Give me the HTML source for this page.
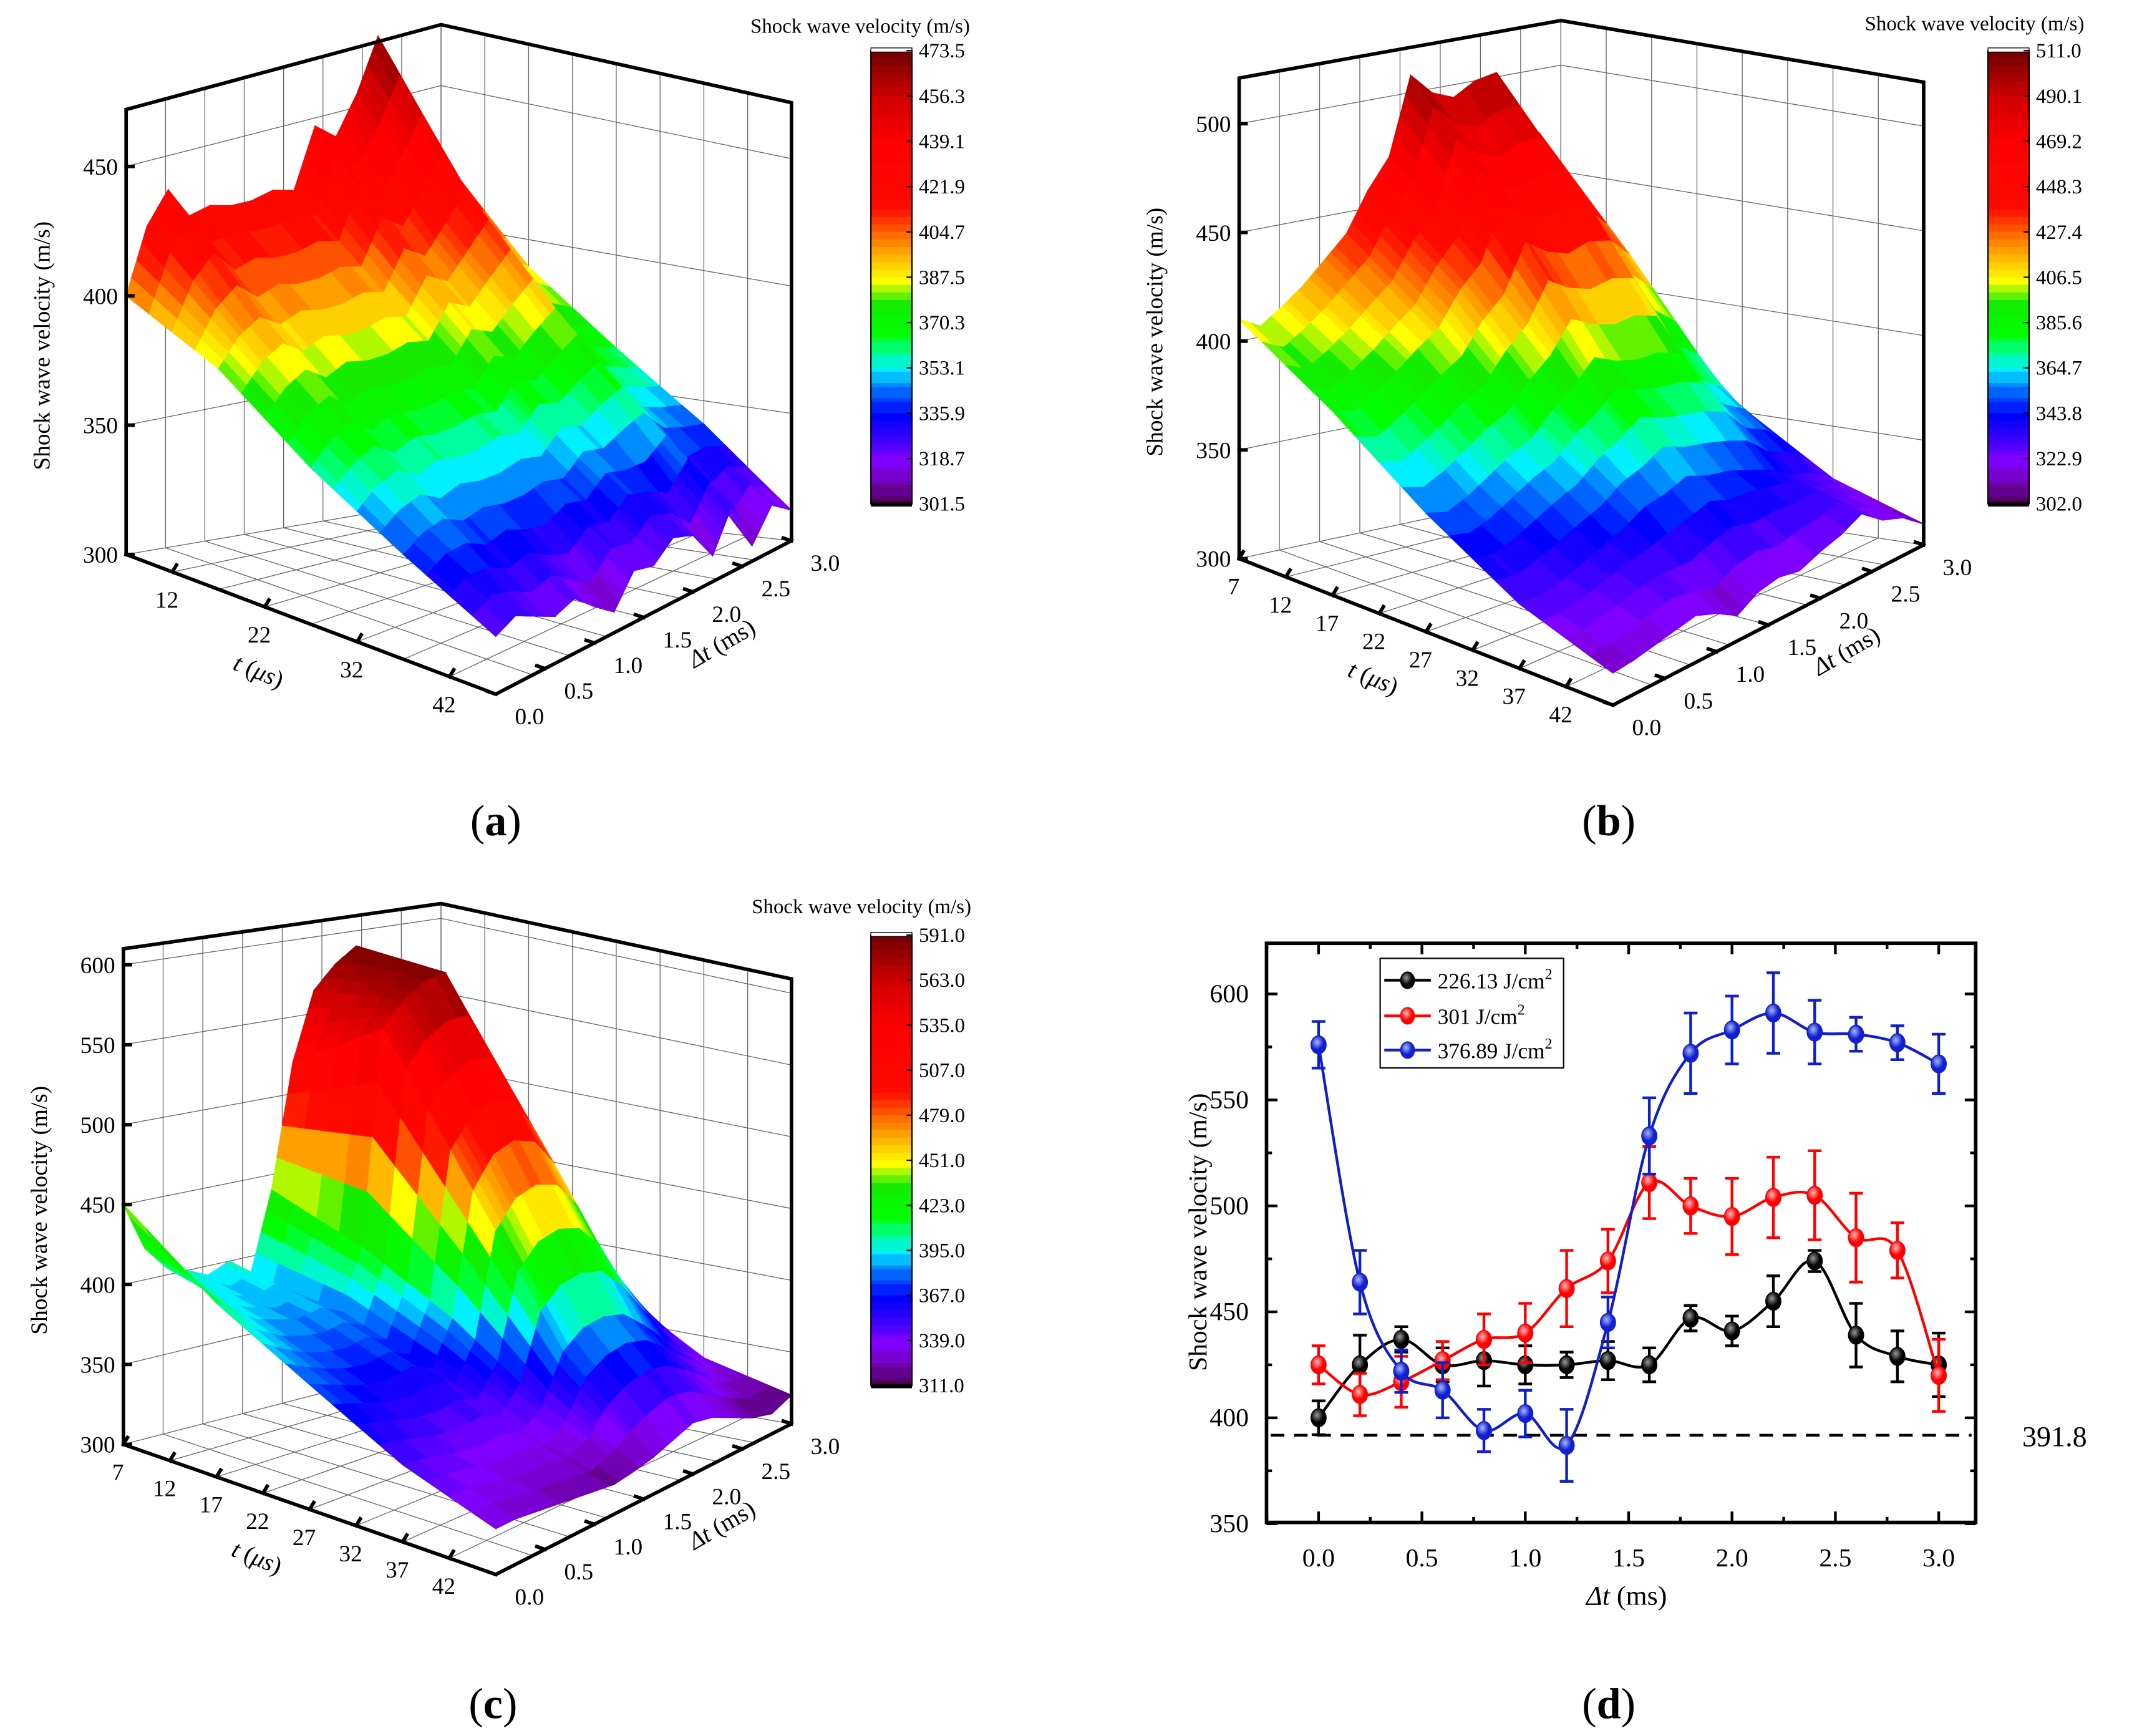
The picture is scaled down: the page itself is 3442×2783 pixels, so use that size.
<!DOCTYPE html>
<html><head><meta charset="utf-8">
<style>
html,body{margin:0;padding:0;background:#fff;}
svg{display:block;font-family:"Liberation Serif",serif;}
</style></head>
<body>
<svg id="fig" width="3442" height="2783" viewBox="0 0 1568 1268" xmlns="http://www.w3.org/2000/svg">
<rect x="0" y="0" width="1568" height="1268" fill="#fff"/>
<g id="pa"></g>
<g id="pb"></g>
<g id="pc"></g>
<g id="pd"></g>
<text x="362" y="610" font-size="32" text-anchor="middle">(<tspan font-weight="bold">a</tspan>)</text>
<text x="1175" y="610" font-size="32" text-anchor="middle">(<tspan font-weight="bold">b</tspan>)</text>
<text x="360" y="1255" font-size="32" text-anchor="middle">(<tspan font-weight="bold">c</tspan>)</text>
<text x="1175" y="1255" font-size="32" text-anchor="middle">(<tspan font-weight="bold">d</tspan>)</text>
</svg>
<script>
// ---------- data ----------
const deltaT = [0,0.2,0.4,0.6,0.8,1.0,1.2,1.4,1.6,1.8,2.0,2.2,2.4,2.6,2.8,3.0];
const tRows = [7,17,27,37,47];
const v226 = [400,425,437,425,427,425,425,427,425,447,441,455,474,439,429,425];
const v301 = [425,411,417,427,437,440,461,474,511,500,495,504,505,485,479,420];
const v377 = [576,464,422,413,394,402,387,445,533,572,583,591,582,581,577,567];
const e226 = [8,14,6,8,12,9,6,9,8,6,7,12,5,15,12,15];
const e301 = [9,10,12,9,12,14,18,15,17,13,18,19,21,21,13,17];
const e377 = [11,15,10,13,10,11,17,12,18,19,16,19,15,8,8,14];
// surface grids (rows = t, cols = delta t)
const surfA = [
 [400,425,437,425,427,425,425,427,425,447,441,455,474,439,429,425],
 [385,395,400,395,398,396,396,398,396,410,405,415,425,402,395,390],
 [360,368,372,366,370,368,368,370,368,378,375,382,388,372,368,365],
 [340,345,347,343,345,343,343,345,343,350,348,352,355,346,343,341],
 [322,326,322,318,321,314,308,320,318,325,322,310,326,306,318,312]];
const surfB = [
 [410,405,412,420,430,440,458,472,508,498,494,500,502,480,470,420],
 [385,382,388,395,403,410,425,435,460,452,448,452,450,430,420,390],
 [355,352,356,362,368,372,382,390,400,395,392,392,388,372,365,352],
 [330,330,332,336,340,344,350,352,356,352,350,346,342,335,332,325],
 [315,316,318,320,322,318,312,318,320,318,322,325,330,322,318,310]];
const surfC = [
 [450,420,405,400,394,400,388,440,520,565,580,590,580,575,570,560],
 [410,400,392,388,385,388,382,420,560,575,585,588,560,520,480,430],
 [380,375,370,366,365,368,362,390,470,490,495,490,470,430,400,370],
 [350,348,345,342,340,342,338,350,380,390,392,388,375,360,345,335],
 [330,330,328,326,324,322,320,322,325,330,335,332,325,318,314,320]];
const ticksA = ["473.5","456.3","439.1","421.9","404.7","387.5","370.3","353.1","335.9","318.7","301.5"];
const ticksB = ["511.0","490.1","469.2","448.3","427.4","406.5","385.6","364.7","343.8","322.9","302.0"];
const ticksC = ["591.0","563.0","535.0","507.0","479.0","451.0","423.0","395.0","367.0","339.0","311.0"];

const NS="http://www.w3.org/2000/svg";
function mk(parent,tag,attrs,txt){const e=document.createElementNS(NS,tag);for(const k in attrs)e.setAttribute(k,attrs[k]);if(txt!==undefined)e.textContent=txt;parent.appendChild(e);return e;}

const stops=[[0,[75,0,75]],[0.06,[120,0,200]],[0.1,[128,0,255]],[0.15,[60,0,255]],[0.2,[0,0,255]],[0.26,[0,120,255]],[0.3,[0,240,255]],[0.34,[0,255,140]],[0.38,[0,255,0]],[0.45,[20,235,0]],[0.5,[255,255,0]],[0.56,[255,170,0]],[0.6,[255,110,0]],[0.66,[255,10,0]],[0.8,[255,0,0]],[0.9,[210,0,0]],[1,[120,0,0]]];
function cmap(f){f=Math.max(0,Math.min(1,f));f=Math.round(f*60)/60;
 for(let i=1;i<stops.length;i++){if(f<=stops[i][0]){const a=stops[i-1],b=stops[i];const t=(f-a[0])/(b[0]-a[0]);
 const c=a[1].map((x,k)=>Math.round(x+(b[1][k]-x)*t));return `rgb(${c[0]},${c[1]},${c[2]})`;}}return 'rgb(120,0,0)';}

function panel3d(g,cfg){
 const {L,F,R,B,hL,hF,hR,hB,zmin,zmax,grid,cmin,cmax,tTicks,cb,cbTicks,cbTitle}=cfg;
 const tmin=7,tmax=47;
 const P=(u,v,z)=>{
  const fx=L[0]*(1-u)*(1-v)+F[0]*u*(1-v)+R[0]*u*v+B[0]*(1-u)*v;
  const fy=L[1]*(1-u)*(1-v)+F[1]*u*(1-v)+R[1]*u*v+B[1]*(1-u)*v;
  const h=hL*(1-u)*(1-v)+hF*u*(1-v)+hR*u*v+hB*(1-u)*v;
  return [fx, fy-(z-zmin)/(zmax-zmin)*h];};
 const gridG=mk(g,'g',{stroke:'#666','stroke-width':0.6,fill:'none'});
 
 
 for(let z=350;z<=zmax;z+=50){
  const a=P(0,0,z),b=P(0,1,z),c=P(1,1,z);
  mk(gridG,'polyline',{points:`${a} ${b} ${c}`});}
 for(let i=0;i<=8;i++){const v=i/8;const a=P(0,v,zmin),b=P(0,v,zmax),c=P(1,v,zmin);
  mk(gridG,'line',{x1:a[0],y1:a[1],x2:b[0],y2:b[1]});mk(gridG,'line',{x1:a[0],y1:a[1],x2:c[0],y2:c[1]});}
 for(let i=0;i<=8;i++){const u=i/8;const a=P(u,1,zmin),b=P(u,1,zmax),c=P(u,0,zmin);
  mk(gridG,'line',{x1:a[0],y1:a[1],x2:b[0],y2:b[1]});mk(gridG,'line',{x1:a[0],y1:a[1],x2:c[0],y2:c[1]});}
 const surf=mk(g,'g',{});
 
 
 const polys=[];const n=4;
 for(let i=0;i<grid.length-1;i++)for(let j=0;j<deltaT.length-1;j++){
  const z00=grid[i][j],z01=grid[i][j+1],z10=grid[i+1][j],z11=grid[i+1][j+1];
  for(let a=0;a<n;a++)for(let b=0;b<n;b++){
   const pts=[];let zs=0;
   [[a,b],[a,b+1],[a+1,b+1],[a+1,b]].forEach(([p,q])=>{const s=p/n,t=q/n;
    const z=z00*(1-s)*(1-t)+z01*(1-s)*t+z10*s*(1-t)+z11*s*t;zs+=z;
    const tv=tRows[i]+(tRows[i+1]-tRows[i])*s, dv=deltaT[j]+(deltaT[j+1]-deltaT[j])*t;
    pts.push(P((tv-tmin)/(tmax-tmin),dv/3,z));});
   const uc=(tRows[i]+(tRows[i+1]-tRows[i])*(a+0.5)/n-tmin)/(tmax-tmin);
   const vc=(deltaT[j]+(deltaT[j+1]-deltaT[j])*(b+0.5)/n)/3;
   polys.push({d:uc-vc,pts,z:zs/4});}}
 polys.sort((x,y)=>x.d-y.d);
 polys.forEach(p=>{const c=cmap((p.z-cmin)/(cmax-cmin));
  mk(surf,'polygon',{points:p.pts.map(q=>q[0].toFixed(1)+','+q[1].toFixed(1)).join(' '),fill:c,stroke:c,'stroke-width':0.7});});
 const ax=mk(g,'g',{stroke:'#000','stroke-width':2.6,fill:'none','stroke-linecap':'square'});
 
 
 const Lt=P(0,0,zmax),Bt=P(0,1,zmax),Rt=P(1,1,zmax),Rb=P(1,1,zmin);
 mk(ax,'polyline',{points:`${L} ${Lt} ${Bt} ${Rt} ${Rb} ${F} ${L}`});
 for(let z=300;z<=zmax;z+=50){const p=P(0,0,z);
  mk(ax,'line',{x1:p[0],y1:p[1],x2:p[0]+5,y2:p[1]});
  const tx=mk(g,'text',{x:p[0]-6,y:p[1]+6,'font-size':17,'text-anchor':'end'},String(z));
  
  }
 tTicks.forEach(t=>{const u=(t-tmin)/(tmax-tmin);const p=P(u,0,zmin);
  mk(ax,'line',{x1:p[0],y1:p[1],x2:p[0]+3,y2:p[1]-5});
  const tx=mk(g,'text',{x:p[0]-4,y:p[1]+26,'font-size':17,'text-anchor':'middle'},String(t));
  
  });
 for(let d=0;d<=3.001;d+=0.5){const p=P(1,d/3,zmin);
  mk(ax,'line',{x1:p[0],y1:p[1],x2:p[0]-6,y2:p[1]-2});
  const tx=mk(g,'text',{x:p[0]+14,y:p[1]+22,'font-size':17,'text-anchor':'start'},d.toFixed(1));
  
  }
 const zt=mk(g,'text',{x:0,y:0,'font-size':17,'text-anchor':'middle',transform:`translate(${L[0]-56},${(L[1]+Lt[1])/2+10}) rotate(-90)`},'Shock wave velocity (m/s)');
 
 
 const mt=P(0.38,0,zmin);
 const tt=mk(g,'text',{x:0,y:0,'font-size':18,'text-anchor':'middle',transform:`translate(${mt[0]-8},${mt[1]+52}) rotate(22)`});
 
 
 mk(tt,'tspan',{'font-style':'italic'},'t');mk(tt,'tspan',{},' (');mk(tt,'tspan',{'font-style':'italic'},'μs');mk(tt,'tspan',{},')');
 const md=P(1,0.5,zmin);
 const dt=mk(g,'text',{x:0,y:0,'font-size':18,'text-anchor':'middle',transform:`translate(${md[0]+60},${md[1]+24}) rotate(-30)`});
 
 
 mk(dt,'tspan',{'font-style':'italic'},'Δt');mk(dt,'tspan',{},' (ms)');
 const cbg=mk(g,'g',{});
 
 
 const [cx,cy,cw,ch]=cb;const N=120;
 for(let i=0;i<N;i++){const f=1-i/N;mk(cbg,'rect',{x:cx,y:cy+ch*i/N,width:cw,height:ch/N+0.6,fill:cmap(f)});}
 mk(cbg,'rect',{x:cx,y:cy,width:cw,height:ch,fill:'none',stroke:'#000','stroke-width':1});
 mk(cbg,'rect',{x:cx,y:cy-2,width:cw,height:3,fill:'#fff',stroke:'#000','stroke-width':0.6});
 mk(cbg,'rect',{x:cx,y:cy+ch-1,width:cw,height:3,fill:'#000'});
 cbTicks.forEach((lab,i)=>{const y=cy+ch*i/(cbTicks.length-1);
  mk(cbg,'line',{x1:cx+cw-4,y1:y,x2:cx+cw,y2:y,stroke:'#000','stroke-width':1});
  mk(cbg,'text',{x:cx+cw+5,y:y+5,'font-size':15},lab);});
 const ct=mk(g,'text',{x:cbTitle[0],y:cbTitle[1],'font-size':15},'Shock wave velocity (m/s)');
 
 
}

panel3d(document.getElementById('pa'),{L:[92,405],F:[362,507],R:[578,395],B:[322,366],hL:325,hF:330,hR:320,hB:348,zmin:300,zmax:472,grid:surfA,cmin:301.5,cmax:473.5,
 tTicks:[12,22,32,42],cb:[636,37,30,331],cbTicks:ticksA,cbTitle:[548,24]});
panel3d(document.getElementById('pb'),{L:[905,408],F:[1178,515],R:[1405,398],B:[1140,358],hL:351,hF:345,hR:338,hB:343,zmin:300,zmax:521,grid:surfB,cmin:302,cmax:511,
 tTicks:[7,12,17,22,27,32,37,42],cb:[1452,37,30,331],cbTicks:ticksB,cbTitle:[1362,22]});
panel3d(document.getElementById('pc'),{L:[90,1055],F:[362,1150],R:[578,1040],B:[322,995],hL:362,hF:345,hR:325,hB:335,zmin:300,zmax:610,grid:surfC,cmin:311,cmax:591,
 tTicks:[7,12,17,22,27,32,37,42],cb:[636,683,30,329],cbTicks:ticksC,cbTitle:[549,667]});

// ---------- panel d ----------
(function(){
 const g=document.getElementById('pd');
 const X=d=>963+d*(1416-963)/3;
 const Y=v=>1113-(v-350)*1.548;
 const fx0=925,fx1=1443,fy0=689,fy1=1112;
 const defs=mk(g,'defs',{});
 [['gk','#000','#999'],['gr','#f00','#fbb'],['gb','#1020d0','#aab8ff']].forEach(([id,c,h])=>{
  const rg=mk(defs,'radialGradient',{id:id,cx:'0.4',cy:'0.35',r:'0.7'});
  mk(rg,'stop',{offset:'0',"stop-color":h});mk(rg,'stop',{offset:'0.6',"stop-color":c});mk(rg,'stop',{offset:'1',"stop-color":c});});
 const dl=mk(g,'line',{x1:928,y1:Y(391.8),x2:1440,y2:Y(391.8),stroke:'#000','stroke-width':2,'stroke-dasharray':'10,7'});
 
 
 const rl=mk(g,'text',{x:1477,y:Y(391.8)+8,'font-size':21},'391.8');
 
 
 function spline(pts){let d=`M${pts[0][0]},${pts[0][1]}`;
  for(let i=0;i<pts.length-1;i++){const p0=pts[Math.max(0,i-1)],p1=pts[i],p2=pts[i+1],p3=pts[Math.min(pts.length-1,i+2)];
   const c1=[p1[0]+(p2[0]-p0[0])/6,p1[1]+(p2[1]-p0[1])/6],c2=[p2[0]-(p3[0]-p1[0])/6,p2[1]-(p3[1]-p1[1])/6];
   d+=` C${c1[0].toFixed(1)},${c1[1].toFixed(1)} ${c2[0].toFixed(1)},${c2[1].toFixed(1)} ${p2[0].toFixed(1)},${p2[1].toFixed(1)}`;}
  return d;}
 const series=[[v226,e226,'#000','gk','black-series'],[v301,e301,'#f00','gr','red-series'],[v377,e377,'#1020c8','gb','blue-series']];
 series.forEach(([vals,errs,col,gid,name])=>{
  const sg=mk(g,'g',{});
  
  
  const pts=vals.map((v,i)=>[X(deltaT[i]),Y(v)]);
  mk(sg,'path',{d:spline(pts),fill:'none',stroke:col,'stroke-width':2});
  vals.forEach((v,i)=>{const x=X(deltaT[i]);
   const eb=mk(sg,'path',{d:`M${x},${Y(v-errs[i])}V${Y(v+errs[i])}M${x-5},${Y(v-errs[i])}h10M${x-5},${Y(v+errs[i])}h10`,stroke:col,'stroke-width':2,fill:'none'});
   
   });
  vals.forEach((v,i)=>{
   const c=mk(sg,'ellipse',{cx:X(deltaT[i]),cy:Y(v),rx:5.5,ry:6.5,fill:`url(#${gid})`,stroke:col,'stroke-width':0.8});
   
   });
 });
 const fr=mk(g,'rect',{x:fx0,y:fy0,width:fx1-fx0,height:fy1-fy0,fill:'none',stroke:'#000','stroke-width':2.6});
 
 
 const tk=mk(g,'g',{stroke:'#000','stroke-width':2});
 for(let d=-0.25;d<=3.3;d+=0.25){const x=X(d);if(x<fx0||x>fx1)continue;const maj=Math.abs(d*2-Math.round(d*2))<1e-6;const L=maj?8:4;
  mk(tk,'line',{x1:x,y1:fy1,x2:x,y2:fy1-L});mk(tk,'line',{x1:x,y1:fy0,x2:x,y2:fy0+L});
  if(maj&&d>=0){const t=mk(g,'text',{x:x,y:1144,'font-size':19,'text-anchor':'middle'},d.toFixed(1));
   
   }}
 for(let v=350;v<=620;v+=25){const y=Y(v);if(y<fy0)continue;const maj=v%50===0;const L=maj?8:4;
  mk(tk,'line',{x1:fx0,y1:y,x2:fx0+L,y2:y});mk(tk,'line',{x1:fx1,y1:y,x2:fx1-L,y2:y});
  if(maj){const t=mk(g,'text',{x:912,y:y+6,'font-size':19,'text-anchor':'end'},String(v));
   
   }}
 const yl=mk(g,'text',{x:0,y:0,'font-size':19,'text-anchor':'middle',transform:'translate(881,900) rotate(-90)'},'Shock wave velocity (m/s)');
 
 
 const xl=mk(g,'text',{x:1188,y:1172,'font-size':20,'text-anchor':'middle'});
 
 
 mk(xl,'tspan',{'font-style':'italic'},'Δt');mk(xl,'tspan',{},' (ms)');
 const lg=mk(g,'g',{});
 
 
 mk(lg,'rect',{x:1008,y:700,width:134,height:80,fill:'#fff',stroke:'#000','stroke-width':1});
 [['226.13 J/cm','#000','gk',716],['301 J/cm','#f00','gr',742],['376.89 J/cm','#1020c8','gb',767]].forEach(([lab,col,gid,y])=>{
  const e=mk(lg,'g',{});
  
  
  mk(e,'line',{x1:1011,y1:y,x2:1045,y2:y,stroke:col,'stroke-width':2});
  mk(e,'ellipse',{cx:1028,cy:y,rx:5,ry:6,fill:`url(#${gid})`,stroke:col,'stroke-width':0.8});
  const t=mk(e,'text',{x:1050,y:y+6,'font-size':16},lab);
  mk(t,'tspan',{dy:-7,'font-size':11},'2');});
})();
</script>
</body></html>
